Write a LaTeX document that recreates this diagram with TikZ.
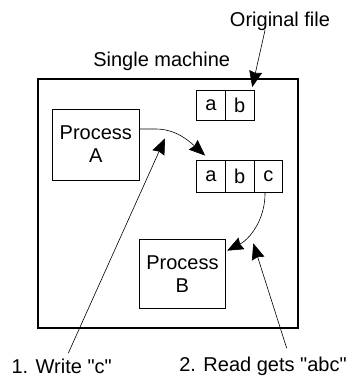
\documentclass[tikz,border=0pt]{standalone}
\usepackage{fontspec}
\setmainfont{Liberation Sans}
\usetikzlibrary{arrows.meta,calc}
\begin{document}
\begin{tikzpicture}[x=1pt,y=-1pt,
  font=\fontsize{20}{23}\selectfont,
  box/.style={draw, line width=0.8pt, inner sep=0pt, align=center},
  cell/.style={draw, line width=0.8pt, inner sep=0pt, minimum width=28.7pt},
  lbl/.style={inner sep=0pt},
  arr/.style={line width=0.6pt, -{Stealth[length=16pt,width=13pt,inset=1.5pt]}}]
\useasboundingbox (0,0) rectangle (348,378);
% machine
\node[draw, line width=2.2pt, minimum width=260pt, minimum height=249pt, inner sep=0pt] (m) at (167.7,203.2) {};
\node[lbl] (sm) at (161.7,61.7) {Single machine};
\node[lbl] (of) at (280,21.7) {Original file};
% original file cells
\node[cell, minimum height=30.7pt] (oa) at (211.05,105.3) {a};
\node[cell, minimum height=30.7pt] (ob) at (239.75,105.3) {b};
% new file cells
\node[cell, minimum height=32.7pt] (ca) at (211.05,176.3) {a};
\node[cell, minimum height=32.7pt] (cb) at (239.75,176.3) {b};
\node[cell, minimum height=32.7pt] (cc) at (268.45,176.3) {c};
% processes
\node[box, minimum width=87pt, minimum height=71pt] (pa) at (95.8,144.5) {Process\\A};
\node[box, minimum width=86.7pt, minimum height=69.3pt] (pb) at (182.4,273.7) {Process\\B};
% labels
\node[lbl] (w1) at (61.7,366.7) {1. Write \textquotedbl c\textquotedbl};
\node[lbl] (r2) at (263,366.7) {2. Read gets \textquotedbl abc\textquotedbl};
% arrow end points
\coordinate (t1) at ($(ob.north east)+(-2.3,-2.4)$);
\coordinate (t2) at ($(ca.north west)+(8.8,-4)$);
\coordinate (t3) at (165,138.3);
\coordinate (t4) at ($(pb.north east)+(1,12)$);
\coordinate (t5) at (253.3,243.3);
% connectors
\draw[arr] ($(of.south)+(-15,-1)$) -- (t1);
\draw[arr] ($(pa.east)+(0,-15.5)$) -- ++(16,0) .. controls (175,129) and (188,140) .. (t2);
\draw[arr] ($(w1.north)+(6.6,-6)$) -- (t3);
\draw[arr] ($(cc.south)+(-3.4,0)$) .. controls (265,222) and (248,240) .. (t4);
\draw[arr] ($(r2.north)+(23.7,-9)$) -- (t5);
\end{tikzpicture}
\end{document}
